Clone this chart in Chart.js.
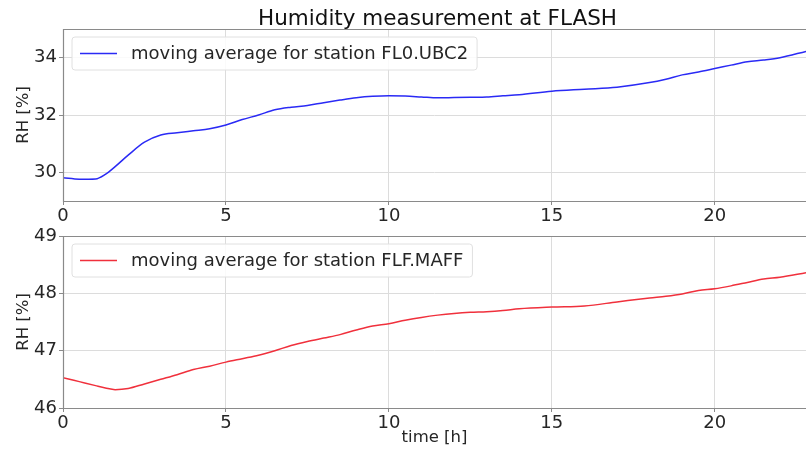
<!DOCTYPE html>
<html>
<head>
<meta charset="utf-8">
<script src="https://cdn.jsdelivr.net/npm/chart.js@4/dist/chart.umd.min.js"></script>
<style>
  html, body { margin: 0; padding: 0; background: #fff; overflow: hidden; }
  #wrap { position: relative; width: 806px; height: 452px; }
  canvas { position: absolute; left: 0; }
</style>
</head>
<body>
<div id="wrap">
  <canvas id="upper" width="806" height="230" style="top:0"></canvas>
  <canvas id="lower" width="806" height="236" style="top:216px"></canvas>
</div>
<script>
// time since start of the measurement, hours
const timeH = [0, 0.5, 1, 1.3, 1.6, 2, 2.5, 3, 3.5, 4, 4.5, 5, 5.5, 6, 6.5, 7, 7.5, 8, 8.5, 9, 9.5,
  10, 10.5, 11, 11.5, 12, 12.5, 13, 13.5, 14, 15, 16, 17, 18, 18.5, 19, 19.5, 20, 20.5, 21, 21.5, 22, 22.8];

// moving average of relative humidity, station FL0.UBC2 [%]
const rhUBC2 = [29.81, 29.76, 29.77, 29.93, 30.2, 30.6, 31.05, 31.3, 31.38, 31.45, 31.52, 31.65, 31.84, 32.0,
  32.18, 32.27, 32.33, 32.43, 32.52, 32.6, 32.65, 32.67, 32.66, 32.63, 32.6, 32.61, 32.62, 32.63, 32.67,
  32.71, 32.83, 32.9, 32.97, 33.13, 33.25, 33.4, 33.5, 33.62, 33.74, 33.86, 33.92, 34.0, 34.22];

// moving average of relative humidity, station FLF.MAFF [%]
const rhMAFF = [46.53, 46.46, 46.39, 46.35, 46.32, 46.34, 46.42, 46.5, 46.58, 46.67, 46.73, 46.8, 46.86, 46.92,
  47.0, 47.09, 47.16, 47.22, 47.28, 47.36, 47.43, 47.47, 47.53, 47.58, 47.62, 47.65, 47.67, 47.68, 47.7,
  47.73, 47.76, 47.78, 47.85, 47.92, 47.95, 47.99, 48.05, 48.08, 48.13, 48.19, 48.25, 48.28, 48.36];

const xTickValues = [0, 5, 10, 15, 20];
const yTicksUBC2 = [30, 32, 34];
const yTicksMAFF = [46, 47, 48, 49];

const FONT = '"DejaVu Sans", "Liberation Sans", sans-serif';
const SPINE = '#8a8a8a';
const GRID = '#dcdcdc';
const TEXT = '#262626';

// axes frame (left, top, bottom spines)
const frame = {
  id: 'frame',
  afterDraw(chart) {
    const { ctx, chartArea: a } = chart;
    ctx.save();
    ctx.strokeStyle = SPINE;
    ctx.lineWidth = 1.2;
    ctx.beginPath();
    ctx.moveTo(a.right + 2, Math.round(a.top) + 0.5);
    ctx.lineTo(Math.round(a.left) + 0.5, Math.round(a.top) + 0.5);
    ctx.lineTo(Math.round(a.left) + 0.5, Math.round(a.bottom) + 0.5);
    ctx.lineTo(a.right + 2, Math.round(a.bottom) + 0.5);
    ctx.stroke();
    ctx.restore();
  }
};

// legend drawn in a framed box in the upper-left corner of the plot
const boxLegend = {
  id: 'boxLegend',
  afterDatasetsDraw(chart) {
    const { ctx, chartArea: a } = chart;
    const ds = chart.data.datasets[0];
    ctx.save();
    ctx.font = '18px ' + FONT;
    const tw = ctx.measureText(ds.label).width;
    const x = a.left + 9, y = a.top + 8, h = 33, w = 59 + tw + 9, r = 3;
    ctx.beginPath();
    ctx.moveTo(x + r, y);
    ctx.arcTo(x + w, y, x + w, y + h, r);
    ctx.arcTo(x + w, y + h, x, y + h, r);
    ctx.arcTo(x, y + h, x, y, r);
    ctx.arcTo(x, y, x + w, y, r);
    ctx.closePath();
    ctx.fillStyle = 'rgba(255,255,255,0.85)';
    ctx.fill();
    ctx.strokeStyle = '#e0e0e0';
    ctx.lineWidth = 1;
    ctx.stroke();
    ctx.strokeStyle = ds.borderColor;
    ctx.lineWidth = 1.5;
    ctx.beginPath();
    ctx.moveTo(x + 8, y + h / 2);
    ctx.lineTo(x + 45, y + h / 2);
    ctx.stroke();
    ctx.fillStyle = TEXT;
    ctx.textBaseline = 'middle';
    ctx.textAlign = 'left';
    ctx.fillText(ds.label, x + 59, y + h / 2 + 1);
    ctx.restore();
  }
};

// figure title centred over the plot
const figTitle = {
  id: 'figTitle',
  afterDraw(chart, args, opts) {
    if (!opts.text) return;
    const { ctx, chartArea: a } = chart;
    ctx.save();
    ctx.font = '21.5px ' + FONT;
    ctx.fillStyle = '#111';
    ctx.textAlign = 'center';
    ctx.textBaseline = 'alphabetic';
    ctx.fillText(opts.text, (a.left + a.right) / 2 + 3, 25);
    ctx.restore();
  }
};

function fixedTicks(values) {
  return scale => { scale.ticks = values.map(v => ({ value: v })); };
}

function makeChart(id, label, color, values, yMin, yMax, yTicks, opts) {
  return new Chart(document.getElementById(id), {
    type: 'line',
    data: {
      datasets: [{
        label: label,
        data: timeH.map((t, i) => ({ x: t, y: values[i] })),
        borderColor: color,
        borderWidth: 1.5,
        pointRadius: 0,
        cubicInterpolationMode: 'monotone',
        fill: false
      }]
    },
    options: {
      responsive: false,
      animation: false,
      devicePixelRatio: 1,
      layout: { padding: { top: opts.padTop, left: 0, right: 0, bottom: 0 } },
      plugins: {
        legend: { display: false },
        tooltip: { enabled: false },
        figTitle: { text: opts.title || '' }
      },
      scales: {
        x: {
          type: 'linear',
          min: 0,
          max: 22.8,
          afterBuildTicks: fixedTicks(xTickValues),
          afterFit: s => { s.height = opts.xHeight; },
          border: { display: false },
          grid: { color: GRID, lineWidth: 1, tickLength: 4, tickColor: SPINE },
          ticks: { color: TEXT, padding: 1, font: { family: FONT, size: 18 }, maxRotation: 0 },
          title: {
            display: !!opts.xTitle,
            text: opts.xTitle || '',
            color: TEXT,
            font: { family: FONT, size: 16.5 },
            padding: { top: 0, bottom: 4 }
          }
        },
        y: {
          type: 'linear',
          min: yMin,
          max: yMax,
          afterBuildTicks: fixedTicks(yTicks),
          afterFit: s => { s.width = 63; },
          border: { display: false },
          grid: { color: GRID, lineWidth: 1, tickLength: 4, tickColor: SPINE },
          ticks: { color: TEXT, padding: 2, font: { family: FONT, size: 18 } },
          title: {
            display: true,
            text: 'RH [%]',
            color: TEXT,
            font: { family: FONT, size: 16.5 },
            padding: { top: 14, bottom: 0 }
          }
        }
      }
    },
    plugins: [frame, boxLegend, figTitle]
  });
}

makeChart('upper', 'moving average for station FL0.UBC2', '#2a2af5', rhUBC2, 29, 35, yTicksUBC2,
  { padTop: 29, xHeight: 29, title: 'Humidity measurement at FLASH' });
makeChart('lower', 'moving average for station FLF.MAFF', '#f0303c', rhMAFF, 46, 49, yTicksMAFF,
  { padTop: 20, xHeight: 44, xTitle: 'time [h]' });
</script>
</body>
</html>
